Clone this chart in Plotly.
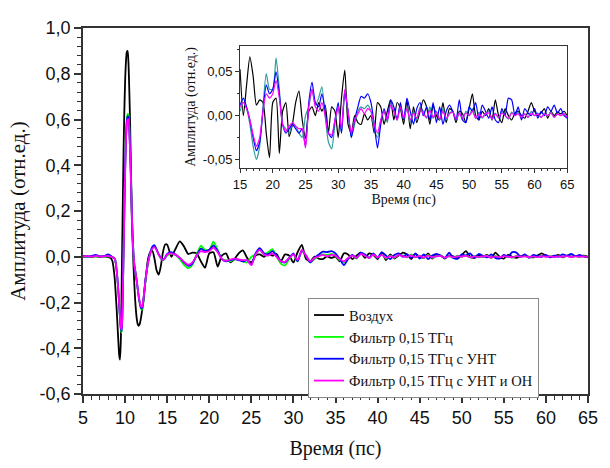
import plotly.graph_objects as go

# ---------------- data ----------------
pulse_t = [5.0, 5.5, 6.0, 6.5, 7.0, 7.5, 8.0, 8.3, 8.5, 8.7,
           8.8, 8.9, 9.0, 9.1, 9.2, 9.3, 9.4, 9.5, 9.6, 9.7,
           9.8, 9.9, 10.0, 10.1, 10.2, 10.3, 10.4, 10.5, 10.6, 10.7,
           10.8, 10.9, 11.0, 11.1, 11.2, 11.3, 11.4, 11.5, 11.6, 11.7,
           11.8, 11.9, 12.0, 12.1, 12.2, 12.3, 12.4, 12.5, 12.75, 13.0,
           13.25, 13.5, 13.75, 14.0, 14.25, 14.5, 14.75]
tail_t = [15.0 + 0.5 * i for i in range(101)]
time_ps = pulse_t + tail_t

air_pulse = [0.000, 0.002, -0.001, 0.002, 0.000, 0.001, -0.002, -0.006, -0.02, -0.07,
             -0.11, -0.17, -0.23, -0.30, -0.37, -0.43, -0.45, -0.36, -0.10, 0.16,
             0.42, 0.62, 0.76, 0.85, 0.895, 0.90, 0.85, 0.73, 0.58, 0.38,
             0.17, 0.06, -0.04, -0.12, -0.19, -0.24, -0.275, -0.295, -0.302, -0.298,
             -0.285, -0.265, -0.24, -0.215, -0.19, -0.15, -0.11, -0.075, -0.005, 0.02,
             0.025, -0.01, -0.06, -0.078, -0.04, 0.02, 0.053]
air_tail = [0.053, 0.000, 0.035, 0.067, 0.045, 0.012, 0.018, 0.015, -0.020, -0.048,
            0.015, 0.020, -0.043, 0.005, 0.015, -0.024, -0.010, 0.015, 0.028, -0.005,
            -0.026, 0.005, 0.010, 0.000, 0.015, 0.005, 0.012, -0.020, 0.010, 0.005,
            -0.025, 0.020, 0.052, -0.010, -0.020, 0.000, -0.008, -0.010, 0.002, -0.005,
            0.000, -0.020, 0.015, 0.010, -0.010, 0.005, 0.018, -0.005, 0.015, 0.008,
            -0.010, 0.018, -0.015, 0.010, -0.008, 0.005, 0.018, 0.010, -0.010, 0.012,
            0.000, -0.005, 0.015, -0.008, 0.008, 0.005, -0.008, 0.005, 0.002, -0.008,
            0.008, 0.025, 0.000, -0.005, 0.005, 0.000, 0.008, -0.005, 0.018, 0.000,
            -0.008, 0.008, 0.000, -0.005, 0.003, 0.005, 0.000, -0.003, 0.005, 0.015,
            0.005, 0.000, 0.003, 0.008, -0.003, 0.005, 0.000, 0.004, 0.002, 0.005,
            0.000]

filt_pulse = [0.002, 0.000, 0.002, 0.001, 0.003, 0.000, 0.002, 0.000, -0.002, -0.005,
              -0.01, -0.03, -0.06, -0.10, -0.15, -0.21, -0.27, -0.32, -0.33, -0.22,
              -0.02, 0.18, 0.38, 0.52, 0.60, 0.625, 0.62, 0.57, 0.47, 0.35,
              0.20, 0.09, 0.01, -0.035, -0.06, -0.085, -0.11, -0.14, -0.17, -0.195,
              -0.215, -0.228, -0.232, -0.215, -0.185, -0.15, -0.115, -0.085, -0.025, 0.015,
              0.040, 0.045, 0.030, 0.008, -0.008, -0.016, -0.006]
filt_tail = [0.005, 0.015, 0.008, -0.010, -0.035, -0.050, -0.035, 0.010, 0.048, 0.030,
             0.030, 0.066, 0.030, -0.010, -0.015, -0.020, -0.010, -0.012, -0.020, -0.025,
             0.000, 0.010, 0.030, 0.012, 0.020, 0.033, 0.000, -0.030, -0.038, -0.010,
             0.010, -0.020, 0.025, 0.005, -0.025, -0.010, 0.005, 0.010, 0.008, 0.012,
             0.005, -0.015, -0.025, -0.005, 0.005, -0.008, 0.015, 0.005, -0.005, 0.012,
             -0.005, 0.010, -0.008, 0.005, -0.005, 0.010, 0.005, -0.003, 0.010, -0.003,
             0.005, -0.005, 0.008, -0.005, 0.003, 0.005, -0.005, 0.003, -0.005, 0.005,
             0.000, 0.008, -0.003, 0.004, -0.003, 0.002, 0.005, -0.005, 0.003, -0.003,
             0.005, 0.000, -0.004, 0.004, 0.000, 0.004, -0.003, 0.002, -0.002, 0.005,
             0.000, 0.003, -0.002, 0.003, 0.000, 0.004, -0.002, 0.002, 0.000, 0.002,
             -0.002]

cnt_pulse = [0.004, 0.001, 0.003, 0.008, 0.002, 0.003, 0.010, 0.004, -0.002, -0.006,
             -0.01, -0.03, -0.06, -0.10, -0.15, -0.21, -0.27, -0.315, -0.325, -0.22,
             -0.02, 0.18, 0.37, 0.51, 0.59, 0.615, 0.61, 0.56, 0.46, 0.34,
             0.19, 0.085, 0.01, -0.035, -0.06, -0.085, -0.11, -0.14, -0.17, -0.193,
             -0.212, -0.224, -0.226, -0.21, -0.18, -0.145, -0.11, -0.08, -0.02, 0.02,
             0.045, 0.050, 0.032, 0.010, -0.005, -0.014, -0.004]
cnt_tail = [0.012, 0.020, 0.010, -0.005, -0.025, -0.040, -0.030, 0.005, 0.035, 0.025,
            0.030, 0.050, 0.025, -0.010, -0.020, -0.015, -0.010, -0.015, -0.020, -0.015,
            -0.035, 0.015, 0.038, 0.015, 0.010, 0.025, 0.005, -0.020, -0.025, -0.005,
            0.015, -0.020, 0.028, 0.005, -0.025, -0.005, 0.010, 0.022, 0.020, 0.025,
            0.015, -0.010, -0.037, -0.010, 0.008, -0.005, 0.018, 0.010, -0.005, 0.015,
            -0.005, 0.020, 0.005, -0.010, 0.008, 0.015, 0.000, 0.010, -0.005, 0.015,
            -0.008, 0.010, -0.010, 0.005, 0.012, 0.005, -0.005, 0.018, -0.005, -0.008,
            0.010, 0.005, 0.015, -0.005, 0.012, 0.005, -0.003, 0.010, -0.005, -0.008,
            0.008, 0.000, 0.020, 0.018, 0.000, 0.010, -0.005, 0.008, 0.003, 0.000,
            0.008, -0.003, 0.005, 0.000, 0.010, 0.005, 0.012, 0.003, 0.008, 0.000,
            -0.003]

cnt_on_pulse = [0.001, 0.003, 0.000, 0.004, 0.001, 0.002, 0.003, 0.001, -0.002, -0.005,
                -0.01, -0.03, -0.06, -0.10, -0.15, -0.21, -0.265, -0.31, -0.32, -0.215,
                -0.02, 0.17, 0.36, 0.50, 0.58, 0.60, 0.60, 0.55, 0.45, 0.33,
                0.19, 0.085, 0.01, -0.035, -0.06, -0.085, -0.11, -0.14, -0.168, -0.19,
                -0.208, -0.218, -0.22, -0.205, -0.178, -0.145, -0.11, -0.08, -0.022, 0.015,
                0.036, 0.042, 0.028, 0.008, -0.006, -0.014, -0.005]
cnt_on_tail = [0.010, 0.015, 0.008, -0.005, -0.022, -0.035, -0.025, 0.005, 0.025, 0.020,
               0.025, 0.040, 0.020, -0.010, -0.018, -0.012, -0.008, -0.012, -0.015, -0.015,
               -0.037, 0.010, 0.030, 0.010, 0.005, 0.015, 0.000, -0.020, -0.022, -0.005,
               0.010, -0.015, 0.030, 0.005, -0.020, -0.005, 0.002, 0.008, 0.002, 0.008,
               0.005, -0.010, -0.020, -0.005, 0.005, -0.005, 0.012, 0.005, -0.005, 0.010,
               -0.003, 0.008, -0.005, 0.003, -0.003, 0.008, 0.002, -0.002, 0.006, -0.002,
               0.004, -0.004, 0.005, -0.003, 0.002, 0.004, -0.004, 0.003, -0.003, 0.003,
               0.000, 0.005, -0.003, 0.002, -0.002, 0.002, 0.003, -0.004, 0.002, -0.002,
               0.003, 0.000, -0.003, 0.003, 0.000, 0.002, -0.002, 0.002, -0.002, 0.003,
               0.000, 0.002, -0.002, 0.002, 0.000, 0.003, -0.002, 0.002, 0.000, 0.002,
               -0.002]

series_names = ["Воздух", "Фильтр 0,15 ТГц", "Фильтр 0,15 ТГц с УНТ", "Фильтр 0,15 ТГц с УНТ и ОН"]
series_values = [air_pulse + air_tail, filt_pulse + filt_tail,
                 cnt_pulse + cnt_tail, cnt_on_pulse + cnt_on_tail]
main_colors = ["#000000", "#00ff00", "#0000ff", "#ff00ff"]
inset_colors = ["#000000", "#2e9c9c", "#0000ff", "#ff00ff"]

main_y_ticks = [-0.6, -0.4, -0.2, 0.0, 0.2, 0.4, 0.6, 0.8, 1.0]
main_y_text = ["-0,6", "-0,4", "-0,2", "0,0", "0,2", "0,4", "0,6", "0,8", "1,0"]
inset_y_ticks = [-0.05, 0.0, 0.05]
inset_y_text = ["-0,05", "0,00", "0,05"]

x_title = "Время (пс)"
y_title = "Амплитуда (отн.ед.)"

SANS = "Liberation Sans, Arial, sans-serif"
SERIF = "Liberation Serif, Times New Roman, serif"

# ---------------- figure ----------------
fig = go.Figure()
n_pulse = len(pulse_t)
for name, vals, c in zip(series_names, series_values, main_colors):
    fig.add_trace(go.Scatter(x=time_ps, y=vals, name=name, mode="lines",
                             line=dict(color=c, width=1.8, shape="spline", smoothing=0.6),
                             xaxis="x", yaxis="y"))
for name, vals, c in zip(series_names, series_values, inset_colors):
    fig.add_trace(go.Scatter(x=time_ps[n_pulse:], y=vals[n_pulse:], name=name, mode="lines",
                             line=dict(color=c, width=1.2, shape="spline", smoothing=0.6),
                             showlegend=False, xaxis="x2", yaxis="y2"))

axis_common = dict(showgrid=False, zeroline=False, mirror=True, linecolor="#333333",
                   ticks="outside", tickcolor="#333333")

fig.update_layout(
    width=610, height=468,
    margin=dict(l=83, r=13, t=28, b=64),
    paper_bgcolor="white", plot_bgcolor="white",
    xaxis=dict(range=[5, 65], tick0=5, dtick=5, linewidth=1.5, ticklen=7, tickwidth=1.5,
               minor=dict(dtick=1, ticklen=4, tickwidth=1, ticks="outside", tickcolor="#333333"),
               tickfont=dict(family=SANS, size=18, color="#111"),
               title=dict(text=x_title, font=dict(family=SERIF, size=20, color="#111"), standoff=14),
               **axis_common),
    yaxis=dict(range=[-0.6, 1.0], tickvals=main_y_ticks, ticktext=main_y_text,
               linewidth=1.5, ticklen=7, tickwidth=1.5,
               minor=dict(tick0=0, dtick=0.04, ticklen=4, tickwidth=1, ticks="outside", tickcolor="#333333"),
               tickfont=dict(family=SANS, size=18, color="#111"),
               title=dict(text=y_title, font=dict(family=SERIF, size=21, color="#111"), standoff=8),
               **axis_common),
    xaxis2=dict(domain=[0.311, 0.959], anchor="y2", range=[15, 65], tick0=15, dtick=5,
                linewidth=1, ticklen=4, tickwidth=1,
                minor=dict(dtick=1, ticklen=2, tickwidth=1, ticks="outside", tickcolor="#333333"),
                tickfont=dict(family=SANS, size=13, color="#111"),
                title=dict(text=x_title, font=dict(family=SERIF, size=14, color="#111"), standoff=3),
                **axis_common),
    yaxis2=dict(domain=[0.617, 0.952], anchor="x2", range=[-0.06, 0.08],
                tickvals=inset_y_ticks, ticktext=inset_y_text,
                linewidth=1, ticklen=4, tickwidth=1,
                minor=dict(tick0=0, dtick=0.025, ticklen=2, tickwidth=1, ticks="outside", tickcolor="#333333"),
                tickfont=dict(family=SANS, size=13, color="#111"),
                title=dict(text=y_title, font=dict(family=SERIF, size=14, color="#111"), standoff=3),
                **axis_common),
    legend=dict(x=0.4455, y=0.262, xanchor="left", yanchor="top",
                bgcolor="white", bordercolor="#888888", borderwidth=1,
                font=dict(family=SERIF, size=14.5, color="#111"),
                itemwidth=30, tracegroupgap=0,
                entrywidth=232, entrywidthmode="pixels"),
    showlegend=True,
)

fig.write_html("out.html")
